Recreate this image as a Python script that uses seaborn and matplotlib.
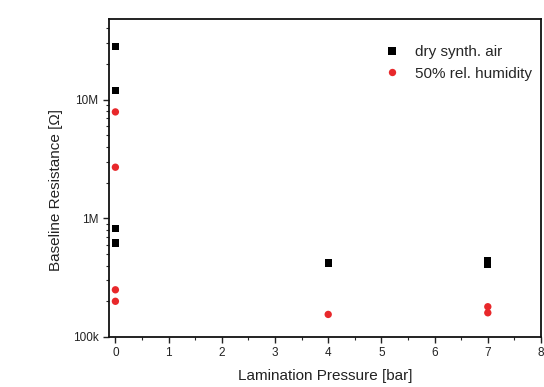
import matplotlib
matplotlib.use("Agg")
import matplotlib.pyplot as plt
import matplotlib.ticker as mticker
import seaborn as sns
import pandas as pd
import numpy as np

pressure_dry = [0, 0, 0, 0, 4, 7, 7]
resist_dry = [2.8e7, 1.19e7, 8.2e5, 6.2e5, 4.2e5, 4.4e5, 4.1e5]
pressure_hum = [0, 0, 0, 0, 4, 7, 7]
resist_hum = [7.9e6, 2.7e6, 2.5e5, 2.0e5, 1.55e5, 1.8e5, 1.6e5]
labels = ["dry synth. air", "50% rel. humidity"]

df = pd.DataFrame({
    "p": pressure_dry + pressure_hum,
    "r": resist_dry + resist_hum,
    "cond": [labels[0]] * len(pressure_dry) + [labels[1]] * len(pressure_hum),
})

sns.set_style("ticks")
plt.rcParams['font.family'] = ['Liberation Sans', 'DejaVu Sans']

fig = plt.figure(figsize=(5.44, 3.87), dpi=100)
ax = fig.add_axes([0.2004, 0.1292, 0.7941, 0.8218])
sns.scatterplot(data=df, x="p", y="r", hue="cond", style="cond",
                palette={labels[0]: "black", labels[1]: "#e8282b"},
                markers={labels[0]: "s", labels[1]: "o"},
                s=28, linewidth=0, ax=ax, legend=True)
ax.set_yscale("log")
ax.set_ylim(1e5, 4.8e7)
ax.set_xlim(-0.12, 8)
ax.set_xticks(range(0, 9))
ax.xaxis.set_minor_locator(mticker.MultipleLocator(0.5))
ax.yaxis.set_major_locator(mticker.FixedLocator([1e5, 1e6, 1e7]))
ax.yaxis.set_major_formatter(mticker.FixedFormatter(["100k", "1M", "10M"]))
ax.yaxis.set_minor_locator(mticker.LogLocator(base=10, subs=np.arange(2, 10)))
ax.yaxis.set_minor_formatter(mticker.NullFormatter())
ax.tick_params(axis="both", which="major", labelsize=8.5, length=4, width=1, colors="#222222", direction="out")
ax.tick_params(axis="both", which="minor", length=2.5, width=0.8, direction="out")
for sp in ax.spines.values():
    sp.set_visible(True)
    sp.set_linewidth(1.3)
    sp.set_color("#111111")
ax.set_xlabel("Lamination Pressure [bar]", fontsize=11, color="#222222", labelpad=7)
ax.set_ylabel("Baseline Resistance [Ω]", fontsize=11, color="#222222")
ax.yaxis.set_label_coords(-0.107, 0.462)
leg = ax.legend(loc="upper left", bbox_to_anchor=(0.605, 0.937), frameon=False, fontsize=11,
                handletextpad=0.5, labelspacing=0.5, borderaxespad=0.0, markerscale=1.0)
fig.savefig("out.png", dpi=100)
